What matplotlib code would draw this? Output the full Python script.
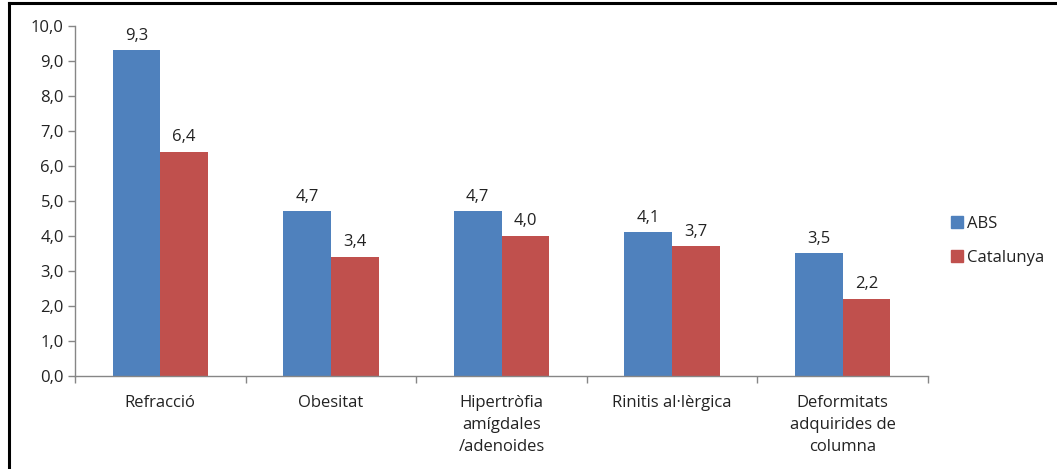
import matplotlib
matplotlib.use("Agg")
import matplotlib.pyplot as plt
import numpy as np
from matplotlib.lines import Line2D

plt.rcParams['font.family'] = ['Open Sans', 'DejaVu Sans']

categories = ["Refracció", "Obesitat", "Hipertròfia\namígdales\n/adenoides",
              "Rinitis al·lèrgica", "Deformitats\nadquirides de\ncolumna"]
abs_values = [9.3, 4.7, 4.7, 4.1, 3.5]
cat_values = [6.4, 3.4, 4.0, 3.7, 2.2]
series_names = ["ABS", "Catalunya"]
yticks = [0, 1, 2, 3, 4, 5, 6, 7, 8, 9, 10]

blue = "#4F81BD"
red = "#C0504D"
axis_gray = "#868686"
text_col = "#222222"
fs = 12

W, H = 1057, 469
fig = plt.figure(figsize=(W / 100, H / 100), dpi=100)
ax = fig.add_axes([75 / W, 1 - 376 / H, (928 - 75) / W, (376 - 26) / H])

x = np.arange(len(categories))
bw = 0.28
b1 = ax.bar(x - bw / 2, abs_values, bw, color=blue, label=series_names[0])
b2 = ax.bar(x + bw / 2, cat_values, bw, color=red, label=series_names[1])

def fmt(v):
    return f"{v:.1f}".replace(".", ",")

for bars, vals in ((b1, abs_values), (b2, cat_values)):
    for rect, v in zip(bars, vals):
        ax.annotate(fmt(v), (rect.get_x() + rect.get_width() / 2, v),
                    xytext=(0, 5), textcoords="offset points",
                    ha="center", va="bottom", fontsize=fs, color=text_col)

ax.set_xlim(-0.5, len(categories) - 0.5)
ax.set_ylim(0, 10)
ax.set_yticks(yticks)
ax.set_yticklabels([fmt(v) for v in yticks], fontsize=fs, color=text_col)
ax.tick_params(axis="y", length=5, width=1, color=axis_gray, pad=3)

ax.set_xticks(np.arange(len(categories) + 1) - 0.5)
ax.set_xticklabels([])
ax.set_xticks(x, minor=True)
ax.set_xticklabels(categories, minor=True, fontsize=fs, color=text_col,
                   linespacing=1.5, va="top")
ax.tick_params(axis="x", which="major", length=5, width=1, color=axis_gray)
ax.tick_params(axis="x", which="minor", length=0, pad=14)

for s in ("top", "right"):
    ax.spines[s].set_visible(False)
for s in ("left", "bottom"):
    ax.spines[s].set_color(axis_gray)
    ax.spines[s].set_linewidth(1)

handles = [Line2D([], [], marker="s", linestyle="none", markersize=8,
                  markerfacecolor=c, markeredgecolor=c) for c in (blue, red)]
fig.legend(handles, series_names, loc="upper left",
           bbox_to_anchor=(934 / W, 1 - 201 / H), frameon=False,
           fontsize=fs, handletextpad=0.1, labelspacing=1.05,
           handlelength=1.0, labelcolor=text_col)

# outer frame lines (top and left)
fig.add_artist(Line2D([9 / W, 1], [1 - 3 / H, 1 - 3 / H], color="black",
                      lw=2.2, transform=fig.transFigure))
fig.add_artist(Line2D([9 / W, 9 / W], [0, 1 - 3 / H], color="black",
                      lw=2.2, transform=fig.transFigure))

fig.savefig("out.png", dpi=100)
